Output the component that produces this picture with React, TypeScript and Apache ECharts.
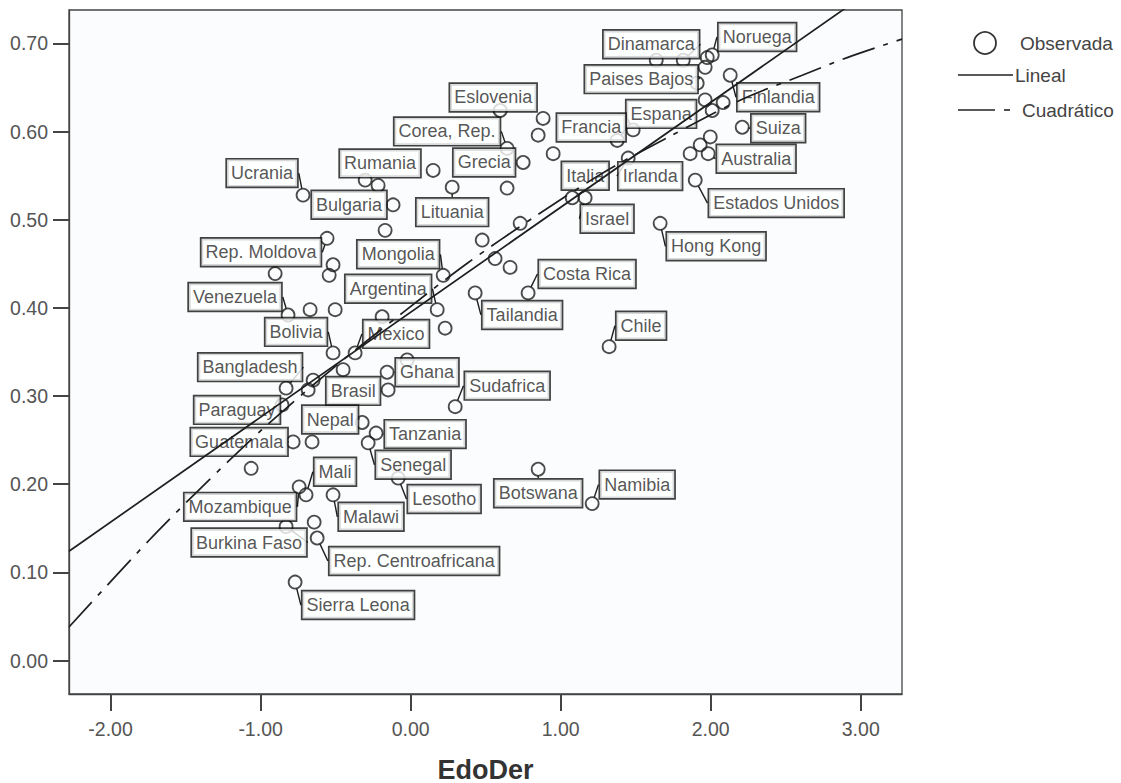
import React, { useEffect, useRef } from 'react';
import * as echarts from 'echarts';

// ---- Data ----
const countries: string[] = [
  'Dinamarca', '', 'Noruega', '', '', 'Finlandia', 'Paises Bajos', '', '', '',
  'Suiza', 'Australia', '', '', '', 'Estados Unidos', 'Hong Kong', 'Espana', 'Francia', 'Irlanda',
  'Italia', 'Israel', 'Eslovenia', '', '', 'Corea, Rep.', '', 'Grecia', '', 'Rumania',
  '', 'Ucrania', 'Bulgaria', 'Lituania', '', '', 'Rep. Moldova', '', '', '',
  '', '', '', '', 'Mongolia', 'Tailandia', 'Costa Rica', 'Argentina', '', '',
  '', '', 'Venezuela', 'Bolivia', 'Mexico', '', '', '', 'Bangladesh', 'Ghana',
  'Brasil', '', 'Sudafrica', 'Paraguay', 'Nepal', 'Tanzania', 'Senegal', 'Guatemala', '', '',
  'Lesotho', 'Botswana', 'Namibia', 'Chile', 'Mozambique', 'Mali', 'Malawi', 'Burkina Faso', '', 'Rep. Centroafricana',
  'Sierra Leona',
];

const edoDer: number[] = [
  1.817, 1.637, 2.01, 1.977, 1.963, 2.13, 1.91, 1.963, 2.083, 2.01,
  2.21, 1.983, 1.997, 1.93, 1.863, 1.897, 1.663, 1.483, 1.377, 1.45,
  1.077, 1.163, 0.597, 0.883, 0.85, 0.643, 0.95, 0.75, 0.15, -0.217,
  -0.303, -0.717, -0.117, 0.277, 0.643, -0.17, -0.557, -0.517, -0.543, -0.903,
  0.73, 0.477, 0.563, 0.663, 0.217, 0.43, 0.783, 0.177, 0.23, -0.19,
  -0.67, -0.503, -0.817, -0.517, -0.37, -0.45, -0.65, -0.683, -0.83, -0.157,
  -0.15, -0.023, 0.297, -0.857, -0.323, -0.23, -0.283, -0.783, -0.657, -1.063,
  -0.083, 0.85, 1.21, 1.323, -0.743, -0.697, -0.517, -0.83, -0.643, -0.623,
  -0.77,
];

const observada: number[] = [
  0.681, 0.681, 0.687, 0.684, 0.673, 0.664, 0.655, 0.636, 0.633, 0.624,
  0.605, 0.575, 0.594, 0.585, 0.575, 0.545, 0.496, 0.602, 0.59, 0.57,
  0.525, 0.525, 0.624, 0.615, 0.596, 0.581, 0.575, 0.565, 0.556, 0.539,
  0.545, 0.528, 0.517, 0.537, 0.536, 0.488, 0.479, 0.449, 0.437, 0.439,
  0.496, 0.477, 0.456, 0.446, 0.437, 0.417, 0.417, 0.398, 0.377, 0.39,
  0.398, 0.398, 0.392, 0.349, 0.349, 0.33, 0.318, 0.307, 0.309, 0.327,
  0.307, 0.341, 0.288, 0.29, 0.27, 0.258, 0.247, 0.248, 0.248, 0.218,
  0.207, 0.217, 0.178, 0.356, 0.197, 0.188, 0.188, 0.152, 0.157, 0.139,
  0.089,
];

// Linear fit line (read at the plot's left and right edges)
const linealX: number[] = [-2.277, 3.275];
const linealY: number[] = [0.124, 0.785];

// Quadratic fit curve
const cuadX: number[] = [-2.277, -1.74, -1.39, -0.99, -0.5, -0.05, 0.38, 0.84, 1.3, 1.72, 2.2, 2.61, 2.91, 3.275];
const cuadY: number[] = [0.038, 0.137, 0.197, 0.262, 0.334, 0.395, 0.451, 0.505, 0.555, 0.594, 0.636, 0.664, 0.684, 0.705];

const xTicks: number[] = [-2, -1, 0, 1, 2, 3];
const yTicks: number[] = [0, 0.1, 0.2, 0.3, 0.4, 0.5, 0.6, 0.7];

// ---- Layout of the point labels (pixel offset of the label box from its point) ----
const labelOffsets: Record<string, [number, number]> = {
  'Dinamarca': [-32, -16],
  'Noruega': [45, -18],
  'Finlandia': [48, 22],
  'Paises Bajos': [-56, -4],
  'Suiza': [36, 1],
  'Australia': [48, 5],
  'Estados Unidos': [81, 23],
  'Hong Kong': [56, 23],
  'Espana': [28, -16],
  'Francia': [-26, -13],
  'Irlanda': [22, 18],
  'Italia': [13, -22],
  'Israel': [22, 21],
  'Eslovenia': [-7, -13],
  'Corea, Rep.': [-60, -17],
  'Grecia': [-39, 0],
  'Rumania': [2, -22],
  'Ucrania': [-41, -22],
  'Bulgaria': [-44, 0],
  'Lituania': [0, 25],
  'Rep. Moldova': [-66, 14],
  'Mongolia': [-45, -21],
  'Tailandia': [47, 22],
  'Costa Rica': [59, -19],
  'Argentina': [-49, -21],
  'Venezuela': [-53, -18],
  'Bolivia': [-37, -21],
  'Mexico': [41, -19],
  'Bangladesh': [-36, -21],
  'Ghana': [40, 0],
  'Brasil': [-35, 1],
  'Sudafrica': [52, -21],
  'Paraguay': [-45, 5],
  'Nepal': [-32, -3],
  'Tanzania': [49, 1],
  'Senegal': [45, 22],
  'Guatemala': [-54, 0],
  'Lesotho': [46, 21],
  'Botswana': [0, 24],
  'Namibia': [45, -19],
  'Chile': [32, -21],
  'Mozambique': [-59, 20],
  'Mali': [29, -23],
  'Malawi': [38, 22],
  'Burkina Faso': [-37, 16],
  'Rep. Centroafricana': [97, 23],
  'Sierra Leona': [63, 23],
};

const FONT = "'Liberation Sans', Arial, Helvetica, sans-serif";

export default function App() {
  const ref = useRef<HTMLDivElement>(null);

  useEffect(() => {
    if (!ref.current) return;
    const chart = echarts.init(ref.current, null, { renderer: 'svg' });

    const scatterData = countries.map((name, i) => ({
      name,
      value: [edoDer[i], observada[i]],
      label: { show: name !== '' },
    }));

    const option: any = {
      animation: false,
      backgroundColor: '#ffffff',
      grid: {
        left: 69,
        right: 219,
        top: 10,
        bottom: 89,
        show: true,
        backgroundColor: '#fbfcfd',
        borderColor: '#444',
        borderWidth: 1.3,
        outerBoundsMode: 'none',
      },
      xAxis: {
        type: 'value',
        min: -2.277,
        max: 3.275,
        name: 'EdoDer',
        nameLocation: 'middle',
        nameGap: 62,
        nameTextStyle: { fontSize: 27, fontWeight: 'bold', color: '#333', fontFamily: FONT },
        splitLine: { show: false },
        axisLine: { show: true, onZero: false, lineStyle: { color: '#444', width: 1.3 } },
        axisTick: { show: true, length: 17, customValues: xTicks, lineStyle: { color: '#444', width: 2 } },
        axisLabel: {
          customValues: xTicks,
          formatter: (v: number) => v.toFixed(2),
          fontSize: 19.5,
          color: '#555',
          margin: 25,
          fontFamily: FONT,
        },
      },
      yAxis: {
        type: 'value',
        min: -0.038,
        max: 0.738,
        splitLine: { show: false },
        axisLine: { show: true, onZero: false, lineStyle: { color: '#444', width: 1.3 } },
        axisTick: { show: true, length: 16, customValues: yTicks, lineStyle: { color: '#444', width: 2 } },
        axisLabel: {
          customValues: yTicks,
          formatter: (v: number) => v.toFixed(2),
          fontSize: 19.5,
          color: '#555',
          margin: 21,
          fontFamily: FONT,
        },
      },
      series: [
        {
          name: 'Observada',
          type: 'scatter',
          z: 2,
          symbol: 'circle',
          symbolSize: 13,
          itemStyle: { color: 'rgba(0,0,0,0)', borderColor: '#1e1e1e', borderWidth: 1.8 },
          data: scatterData,
          label: {
            show: true,
            position: 'inside',
            formatter: '{b}',
            fontSize: 18,
            fontFamily: FONT,
            color: '#2a2a2a',
            textBorderWidth: 0,
            backgroundColor: '#ffffff',
            borderColor: '#111',
            borderWidth: 1.7,
            padding: [4, 4, 3, 4],
            lineHeight: 20,
          },
          labelLine: { show: true, lineStyle: { color: '#1e1e1e', width: 1.4 } },
          labelLayout: (params: any) => {
            const name = countries[params.dataIndex];
            const off = labelOffsets[name];
            return off ? { dx: off[0], dy: off[1] } : {};
          },
          emphasis: { disabled: true },
        },
        {
          name: 'Lineal',
          type: 'line',
          z: 5,
          showSymbol: false,
          symbol: 'none',
          clip: true,
          lineStyle: { color: '#1e1e1e', width: 1.7, type: 'solid' },
          data: linealX.map((x, i) => [x, linealY[i]]),
        },
        {
          name: 'Cuadrático',
          type: 'line',
          z: 5,
          showSymbol: false,
          symbol: 'none',
          smooth: 0.3,
          clip: true,
          lineStyle: { color: '#1e1e1e', width: 1.7, type: [34, 9, 5, 9] },
          data: cuadX.map((x, i) => [x, cuadY[i]]),
        },
      ],
      graphic: [
        { type: 'circle', shape: { cx: 985, cy: 43, r: 11 }, style: { fill: 'none', stroke: '#333', lineWidth: 1.8 } },
        { type: 'text', x: 1020, y: 43, style: { text: 'Observada', fontSize: 19, fontFamily: FONT, fill: '#444', verticalAlign: 'middle' } },
        { type: 'line', shape: { x1: 958, y1: 75, x2: 1013, y2: 75 }, style: { stroke: '#222', lineWidth: 1.6 } },
        { type: 'text', x: 1015, y: 75, style: { text: 'Lineal', fontSize: 19, fontFamily: FONT, fill: '#444', verticalAlign: 'middle' } },
        { type: 'line', shape: { x1: 958, y1: 110, x2: 995, y2: 110 }, style: { stroke: '#222', lineWidth: 1.6 } },
        { type: 'line', shape: { x1: 1004, y1: 110, x2: 1010, y2: 110 }, style: { stroke: '#222', lineWidth: 1.6 } },
        { type: 'text', x: 1022, y: 110, style: { text: 'Cuadrático', fontSize: 19, fontFamily: FONT, fill: '#444', verticalAlign: 'middle' } },
      ],
    };

    chart.setOption(option);
    return () => {
      chart.dispose();
    };
  }, []);

  return (
    <div
      ref={ref}
      style={{ position: 'absolute', left: 0, top: 0, width: 1121, height: 783 }}
    />
  );
}
